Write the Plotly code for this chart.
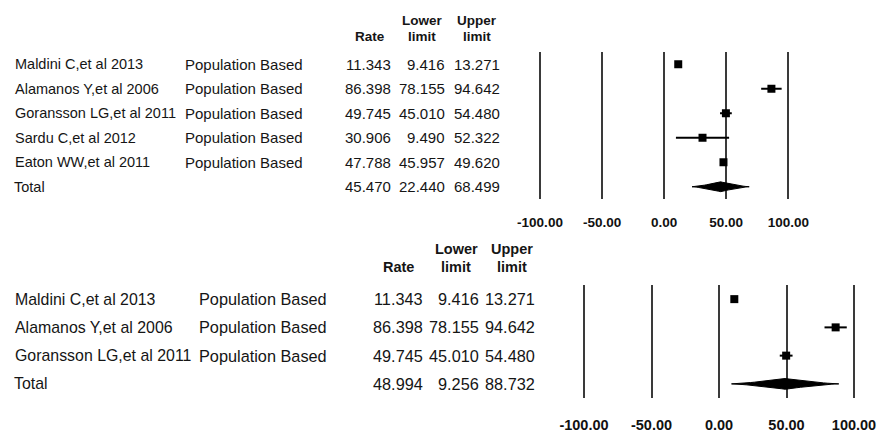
import plotly.graph_objects as go

W, H = 886, 435
OFF = 8  # page body margin

# ---------------- data ----------------
studies_a = ["Maldini C,et al 2013", "Alamanos Y,et al 2006", "Goransson LG,et al 2011",
             "Sardu C,et al 2012", "Eaton WW,et al 2011"]
groups_a = ["Population Based"] * 5
rate_a = [11.343, 86.398, 49.745, 30.906, 47.788]
lower_a = [9.416, 78.155, 45.010, 9.490, 45.957]
upper_a = [13.271, 94.642, 54.480, 52.322, 49.620]
total_a = (45.470, 22.440, 68.499)

studies_b = ["Maldini C,et al 2013", "Alamanos Y,et al 2006", "Goransson LG,et al 2011"]
groups_b = ["Population Based"] * 3
rate_b = [11.343, 86.398, 49.745]
lower_b = [9.416, 78.155, 45.010]
upper_b = [13.271, 94.642, 54.480]
total_b = (48.994, 9.256, 88.732)

tick_vals = [-100, -50, 0, 50, 100]
tick_text = ["-100.00", "-50.00", "0.00", "50.00", "100.00"]

FONT = "Liberation Sans, Arial, sans-serif"
TXT = "#151515"


def px(x):
    return (x - OFF) / W


def py(y):
    return 1 - (y - OFF) / H


fig = go.Figure()


def diamond(rate, lo, hi, yrow, half, ex=1.35):
    xs, ys = [], []
    n = 14
    for k in range(n + 1):
        t = k / n
        xs.append(lo + (rate - lo) * t)
        ys.append(yrow - half * t ** ex)
    for k in range(n - 1, -1, -1):
        t = k / n
        xs.append(hi - (hi - rate) * t)
        ys.append(yrow - half * t ** ex)
    for k in range(1, n + 1):
        t = k / n
        xs.append(hi - (hi - rate) * t)
        ys.append(yrow + half * t ** ex)
    for k in range(n - 1, -1, -1):
        t = k / n
        xs.append(lo + (rate - lo) * t)
        ys.append(yrow + half * t ** ex)
    return xs, ys


def panel(studies, groups, rate, lower, upper, total, xa, ya, half, msize,
          cols, hdr_y, fsize, gsize, hsize):
    n = len(studies)
    rows = list(range(n))
    fig.add_trace(go.Scatter(
        x=rate, y=rows, mode="markers", xaxis=xa, yaxis=ya,
        marker=dict(symbol="square", size=msize, color="black"),
        error_x=dict(type="data", symmetric=False,
                     array=[u - r for u, r in zip(upper, rate)],
                     arrayminus=[r - l for r, l in zip(rate, lower)],
                     color="black", thickness=2, width=0),
        cliponaxis=False, showlegend=False, hoverinfo="skip"))
    dx, dy = diamond(total[0], total[1], total[2], n, half)
    fig.add_trace(go.Scatter(
        x=dx, y=dy, mode="lines", fill="toself", fillcolor="black",
        line=dict(color="black", width=1), xaxis=xa, yaxis=ya,
        showlegend=False, hoverinfo="skip"))

    yref = ya
    name_x, grp_x, rate_x, low_x, up_x, rate_c, low_c, up_c = cols
    for i in range(n + 1):
        if i < n:
            vals = (rate[i], lower[i], upper[i])
            label = studies[i]
            fig.add_annotation(x=px(grp_x), y=i, xref="paper", yref=yref,
                               text=groups[i], showarrow=False, xanchor="left",
                               yanchor="middle",
                               font=dict(family=FONT, size=gsize, color=TXT))
        else:
            vals = total
            label = "Total"
        fig.add_annotation(x=px(name_x - (1 if i == n else 0)), y=i, xref="paper", yref=yref,
                           text=label, showarrow=False, xanchor="left", yanchor="middle",
                           font=dict(family=FONT, size=fsize, color=TXT))
        for v, xr in zip(vals, (rate_x, low_x, up_x)):
            fig.add_annotation(x=px(xr), y=i, xref="paper", yref=yref,
                               text=f"{v:.3f}", showarrow=False, xanchor="right",
                               yanchor="middle",
                               font=dict(family=FONT, size=gsize, color=TXT))
    y1, y2 = hdr_y
    hfont = dict(family=FONT, size=hsize, color=TXT, weight="bold")
    for txt, xc, yy in (("Rate", rate_c, y2), ("Lower", low_c, y1), ("limit", low_c, y2),
                        ("Upper", up_c, y1), ("limit", up_c, y2)):
        fig.add_annotation(x=px(xc), y=py(yy), xref="paper", yref="paper", text=txt,
                           showarrow=False, xanchor="center", yanchor="middle", font=hfont)


panel(studies_a, groups_a, rate_a, lower_a, upper_a, total_a, "x", "y", 0.2, 8,
      (13, 183, 393, 447, 502, 370, 422, 477), (20, 37), 14.5, 15, 13.5)
panel(studies_b, groups_b, rate_b, lower_b, upper_b, total_b, "x2", "y2", 0.19, 8,
      (13, 197, 425, 481, 537, 398, 456, 512), (249, 267), 15.9, 16.3, 14.5)

xcommon = dict(tickvals=tick_vals, ticktext=tick_text,
               showgrid=True, gridcolor="#3a3a3a", gridwidth=1.6, zeroline=False,
               showline=False, ticks="", fixedrange=True, automargin=False)

# axis range padded by 3 units so the ±100 grid lines are drawn inside the plot area
PAD = 3
s1 = (788.3 - 540) / 200
s2 = (854 - 584) / 200

fig.update_layout(
    template="none",
    width=W, height=H, margin=dict(l=0, r=0, t=0, b=0, pad=0, autoexpand=False),
    paper_bgcolor="white", plot_bgcolor="white",
    xaxis=dict(domain=[px(540 - PAD * s1), px(788.3 + PAD * s1)], range=[-100 - PAD, 100 + PAD],
               anchor="y", ticklabelstandoff=13,
               tickfont=dict(family=FONT, size=13.5, color="#111", weight="bold"), **xcommon),
    yaxis=dict(domain=[py(199), py(52)], range=[5.5, -0.5], visible=False, anchor="x",
               automargin=False),
    xaxis2=dict(domain=[px(584 - PAD * s2), px(854 + PAD * s2)], range=[-100 - PAD, 100 + PAD],
                anchor="y2", ticklabelstandoff=16,
                tickfont=dict(family=FONT, size=14.5, color="#111", weight="bold"), **xcommon),
    yaxis2=dict(domain=[py(398), py(285)], range=[3.5, -0.5], visible=False, anchor="x2",
                automargin=False),
)

fig.write_html("out.html")
